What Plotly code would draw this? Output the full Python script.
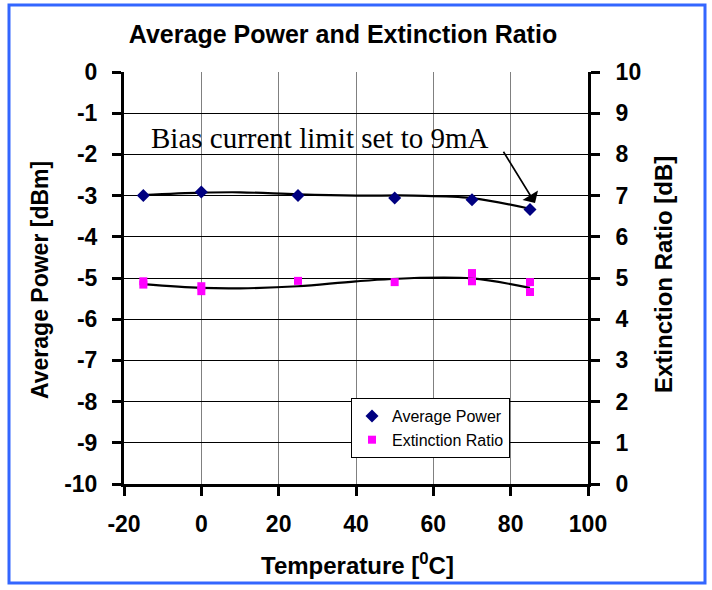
import plotly.graph_objects as go

# ---- data ----
temps_power = [-15, 0, 25, 50, 70, 85]
avg_power = [-3.0, -2.91, -3.0, -3.06, -3.1, -3.34]

temps_er = [-15, -15, 0, 0, 25, 50, 70, 70, 85, 85]
ext_ratio = [4.92, 4.84, 4.8, 4.68, 4.93, 4.9, 5.12, 4.92, 4.9, 4.66]

# trendlines
trend_x = [-15, 0, 10, 25, 40, 55, 70, 85]
trend_power = [-2.99, -2.93, -2.92, -2.97, -3.0, -3.0, -3.06, -3.32]
trend_er = [4.85, 4.76, 4.75, 4.8, 4.92, 5.0, 4.99, 4.76]

x_ticks = [-20, 0, 20, 40, 60, 80, 100]
y_ticks = list(range(-10, 1))
y2_ticks = list(range(0, 11))

FONT = "Liberation Sans, Arial, sans-serif"
L, R, T, B = 124, 588, 72, 484
W, H = 712, 590
PW, PH = R - L, B - T

fig = go.Figure()
fig.add_trace(go.Scatter(x=trend_x, y=trend_power, mode="lines", line=dict(color="black", width=2.2, shape="spline"),
                         showlegend=False, hoverinfo="skip"))
fig.add_trace(go.Scatter(x=trend_x, y=trend_er, mode="lines", line=dict(color="black", width=2.2, shape="spline"),
                         showlegend=False, hoverinfo="skip", yaxis="y2"))
fig.add_trace(go.Scatter(x=temps_power, y=avg_power, mode="markers", name="Average Power",
                         marker=dict(symbol="diamond", size=10, color="#000080")))
fig.add_trace(go.Scatter(x=temps_er, y=ext_ratio, mode="markers", name="Extinction Ratio", yaxis="y2",
                         marker=dict(symbol="square", size=8, color="#FF00FF")))

tickfont = dict(size=23, family=FONT, color="black")
fig.update_layout(
    width=W, height=H,
    margin=dict(l=L, r=W - R, t=T, b=H - B, autoexpand=False),
    paper_bgcolor="white", plot_bgcolor="white",
    font=dict(family=FONT, size=23, color="black"),
    title=dict(text="<b>Average Power and Extinction Ratio</b>", x=343 / W, xanchor="center",
               y=1 - 34 / H, yanchor="middle", font=dict(size=25)),
    xaxis=dict(range=[-20, 100], tickvals=x_ticks, ticktext=[f"<b>{v}</b>" for v in x_ticks],
               showgrid=True, gridcolor="#808080", gridwidth=1,
               showline=True, linecolor="black", linewidth=3,
               ticks="outside", ticklen=9, tickwidth=3, tickcolor="black",
               ticklabelstandoff=8, zeroline=False, tickfont=tickfont, automargin=False),
    yaxis=dict(range=[-10, 0], tickvals=y_ticks, ticktext=[f"<b>{v}</b>" for v in y_ticks],
               showgrid=True, gridcolor="black", gridwidth=1,
               showline=True, linecolor="black", linewidth=3,
               ticks="outside", ticklen=9, tickwidth=3, tickcolor="black",
               ticklabelstandoff=10, zeroline=False, tickfont=tickfont, automargin=False),
    yaxis2=dict(range=[0, 10], tickvals=y2_ticks, ticktext=[f"<b>{v}</b>" for v in y2_ticks],
                overlaying="y", side="right", showgrid=False,
                showline=True, linecolor="black", linewidth=3,
                ticks="outside", ticklen=9, tickwidth=3, tickcolor="black",
                ticklabelstandoff=11, zeroline=False, tickfont=tickfont, automargin=False),
    legend=dict(x=(351 - L) / PW, y=(B - 398) / PH, xanchor="left", yanchor="top", bgcolor="white",
                bordercolor="black", borderwidth=1, font=dict(size=16, color="black"), tracegroupgap=0,
                itemwidth=30),
    showlegend=True,
)

# axis titles
fig.add_annotation(text="<b>Temperature [<sup>0</sup>C]</b>", xref="paper", yref="paper",
                   x=(357 - L) / PW, y=-(564 - B) / PH, xanchor="center", yanchor="middle",
                   showarrow=False, font=dict(size=24))
fig.add_annotation(text="<b>Average Power [dBm]</b>", xref="paper", yref="paper", textangle=-90,
                   x=-(L - 40) / PW, y=(B - 280) / PH, xanchor="center", yanchor="middle",
                   showarrow=False, font=dict(size=23))
fig.add_annotation(text="<b>Extinction Ratio [dB]</b>", xref="paper", yref="paper", textangle=-90,
                   x=1 + (663 - R) / PW, y=(B - 275) / PH, xanchor="center", yanchor="middle",
                   showarrow=False, font=dict(size=24))

# white text box hiding gridlines behind the note
fig.add_shape(type="rect", xref="paper", yref="paper", x0=(148 - L) / PW, x1=(532 - L) / PW,
              y0=(B - 155) / PH, y1=(B - 88) / PH, fillcolor="white", line=dict(width=0), layer="between")

# note with arrow
fig.add_annotation(x=86.3, y=-3.18, xref="x", yref="y", ax=77.9, ay=-1.9, axref="x", ayref="y",
                   text="", showarrow=True, arrowhead=1, arrowsize=1.9, arrowwidth=1.6, arrowcolor="black",
                   standoff=0)
fig.add_annotation(x=(491 - L) / PW, y=(B - 138) / PH, xref="paper", yref="paper", xanchor="right",
                   yanchor="middle", text="Bias current limit set to 9mA", showarrow=False,
                   font=dict(family="Liberation Serif, Times New Roman, serif", size=29, color="black"))

# blue border
fig.add_shape(type="rect", xref="paper", yref="paper", x0=-(L - 9) / PW, x1=(705 - L) / PW,
              y0=-(583 - B) / PH, y1=(B - 5) / PH, line=dict(color="#3366FF", width=3), layer="above")

fig.write_html("out.html", config={"displayModeBar": False},
               post_script="document.body.style.margin='0px';")
